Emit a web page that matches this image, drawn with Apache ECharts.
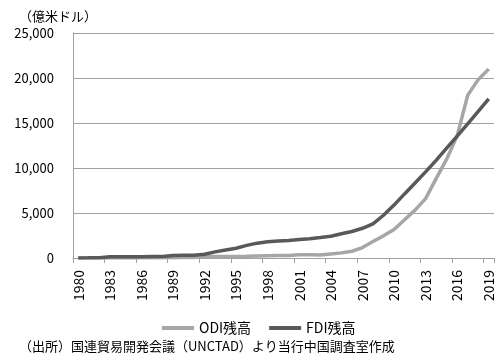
<!DOCTYPE html>
<html>
<head>
<meta charset="utf-8">
<script src="https://cdn.jsdelivr.net/npm/echarts@6/dist/echarts.min.js"></script>
<style>
  html, body { margin: 0; padding: 0; background: #fff; }
  #chart { width: 496px; height: 353px; }
</style>
</head>
<body>
<div id="chart"></div>
<script>
// 中国の対外直接投資残高（ODI）と対内直接投資残高（FDI）、単位：億米ドル
const years = [
  '1980','1981','1982','1983','1984','1985','1986','1987','1988','1989',
  '1990','1991','1992','1993','1994','1995','1996','1997','1998','1999',
  '2000','2001','2002','2003','2004','2005','2006','2007','2008','2009',
  '2010','2011','2012','2013','2014','2015','2016','2017','2018','2019'
];
const odiStock = [
  0, 0, 1, 1, 2, 9, 16, 24, 30, 38,
  45, 53, 160, 170, 180, 180, 200, 230, 250, 270,
  280, 350, 370, 330, 450, 570, 750, 1160, 1840, 2460,
  3170, 4250, 5320, 6600, 8820, 10980, 13570, 18090, 19820, 20990
];
const fdiStock = [
  11, 20, 40, 130, 140, 150, 150, 160, 170, 280,
  300, 310, 420, 680, 880, 1080, 1400, 1650, 1800, 1900,
  1950, 2050, 2150, 2280, 2420, 2700, 2950, 3300, 3800, 4750,
  5880, 7120, 8330, 9570, 10850, 12200, 13540, 14910, 16280, 17690
];
const seriesNames = ['ODI残高', 'FDI残高'];
const unitLabel = '（億米ドル）';
const sourceNote = '（出所）国連貿易開発会議（UNCTAD）より当行中国調査室作成';

const FONT = '"Noto Sans CJK JP", "Noto Sans", sans-serif';
const chart = echarts.init(document.getElementById('chart'), null, { renderer: 'canvas' });

chart.setOption({
  animation: false,
  backgroundColor: '#ffffff',
  textStyle: { fontFamily: FONT },
  grid: { left: 73, right: 2, top: 33, bottom: 95, containLabel: false },
  graphic: [
    {
      type: 'text', left: 19, top: 10,
      style: { text: unitLabel, font: '13px ' + FONT, fill: '#000' }
    },
    {
      type: 'text', left: 19, top: 340,
      style: { text: sourceNote, font: '13px ' + FONT, fill: '#000' }
    }
  ],
  legend: {
    left: 157, top: 316,
    itemWidth: 32, itemHeight: 4, itemGap: 18,
    icon: 'rect',
    textStyle: { fontFamily: FONT, fontSize: 14, color: '#000' },
    data: seriesNames
  },
  xAxis: {
    type: 'category',
    data: years,
    boundaryGap: true,
    axisLine: { lineStyle: { color: '#a0a0a0', width: 1 } },
    axisTick: { show: true, interval: 2, length: 5, lineStyle: { color: '#a0a0a0' } },
    axisLabel: {
      interval: 2, rotate: 90, margin: 12,
      fontFamily: FONT, fontSize: 14, color: '#000'
    },
    splitLine: { show: false }
  },
  yAxis: {
    type: 'value',
    min: 0, max: 25000, interval: 5000,
    axisLine: { show: true, lineStyle: { color: '#a0a0a0', width: 1 } },
    axisTick: { show: false },
    axisLabel: {
      margin: 19, fontFamily: FONT, fontSize: 13, color: '#000',
      formatter: v => v.toLocaleString('en-US')
    },
    splitLine: { lineStyle: { color: '#a0a0a0', width: 1 } }
  },
  series: [
    {
      name: seriesNames[0], type: 'line', data: odiStock,
      symbol: 'none', smooth: false,
      lineStyle: { color: '#a6a6a6', width: 3.5 },
      itemStyle: { color: '#a6a6a6' }
    },
    {
      name: seriesNames[1], type: 'line', data: fdiStock,
      symbol: 'none', smooth: false,
      lineStyle: { color: '#595959', width: 3.5 },
      itemStyle: { color: '#595959' }
    }
  ]
});
</script>
</body>
</html>
